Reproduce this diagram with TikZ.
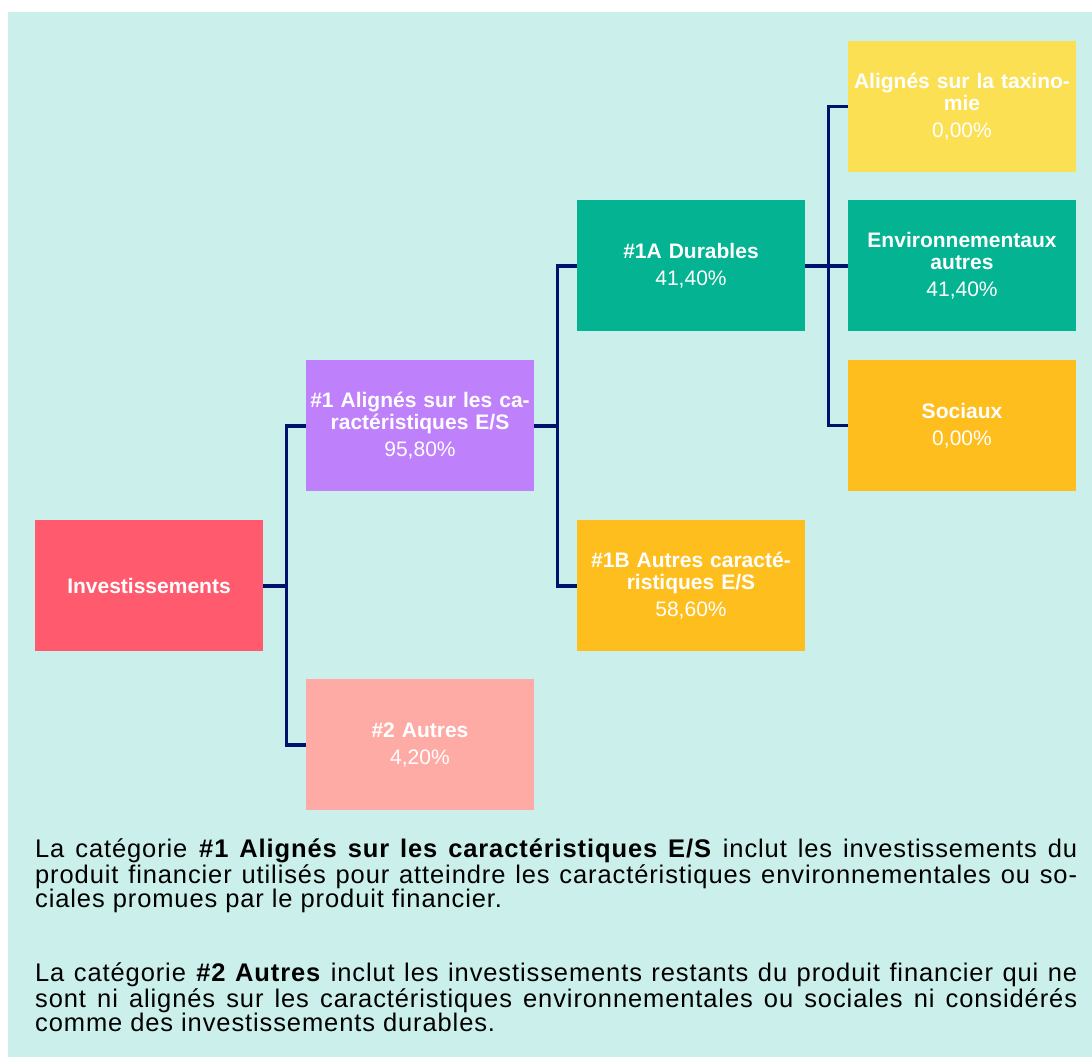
\documentclass[tikz,border=0pt]{standalone}
\usepackage{fontspec}
\setmainfont{Liberation Sans}
\newfontfamily\notefont{Liberation Sans}[LetterSpace=3.5]
\usetikzlibrary{positioning}

\definecolor{bgteal}{RGB}{203,240,236}
\definecolor{invred}{RGB}{255,90,110}
\definecolor{esviolet}{RGB}{191,128,251}
\definecolor{othersalmon}{RGB}{255,171,165}
\definecolor{susteal}{RGB}{3,179,145}
\definecolor{amber}{RGB}{254,190,30}
\definecolor{taxoyellow}{RGB}{252,224,83}
\definecolor{linknavy}{RGB}{0,18,110}

\tikzset{
  box/.style={minimum width=228pt, minimum height=131pt, inner sep=0pt, outer sep=0pt,
    text width=224pt, text=white, align=center, font=\fontsize{21}{22}\selectfont},
  link/.style={draw=linknavy, line width=3.5pt},
  note/.style={anchor=base west, inner sep=0pt, text width=1042pt, align=justify,
    font=\notefont\fontsize{25.5}{23.5}\selectfont}
}
\newcommand{\share}[2]{\textbf{#1}\\[5pt]#2}

\begin{document}
\begin{tikzpicture}[x=1pt, y=1pt, node distance=28.5pt and 43pt]
  \useasboundingbox (0,0) rectangle (1092,1057);
  \fill[bgteal] (8,0) rectangle (1092,1045);

  \node [box, fill=invred] (invest) at (149,471) {\textbf{Investissements}};
  \node [box, fill=esviolet, above right=29pt and 43pt of invest] (es)
    {\share{\#1 Alignés sur les ca-\\ractéristiques E/S}{95,80\%}};
  \node [box, fill=othersalmon, below right=28pt and 43pt of invest] (other)
    {\share{\#2 Autres}{4,20\%}};
  \node [box, fill=susteal, above right=29pt and 43pt of es] (sust)
    {\share{\#1A Durables}{41,40\%}};
  \node [box, fill=amber, below right=29pt and 43pt of es] (otheres)
    {\share{\#1B Autres caracté-\\ristiques E/S}{58,60\%}};
  \node [box, fill=susteal, right=of sust] (envir)
    {\share{Environnementaux\\autres}{41,40\%}};
  \node [box, fill=taxoyellow, above=of envir] (taxo)
    {\share{Alignés sur la taxino-\\mie}{0,00\%}};
  \node [box, fill=amber, below=of envir] (social)
    {\share{Sociaux}{0,00\%}};

  \draw [link] (invest.east) -- ++(23.5,0) |- (es.west);
  \draw [link] (invest.east) -- ++(23.5,0) |- (other.west);
  \draw [link] (es.east) -- ++(23.5,0) |- (sust.west);
  \draw [link] (es.east) -- ++(23.5,0) |- (otheres.west);
  \draw [link] (sust.east) -- ++(23.5,0) |- (taxo.west);
  \draw [link] (sust.east) -- (envir.west);
  \draw [link] (sust.east) -- ++(23.5,0) |- (social.west);

  \node [note] (note1) at (35,199) {La catégorie \textbf{\#1 Alignés sur les caractéristiques E/S} inclut les investissements du\linebreak produit financier utilisés pour atteindre les caractéristiques environnementales ou so-\linebreak ciales promues par le produit financier.};
  \node [note] (note2) at (35,75) {La catégorie \textbf{\#2 Autres} inclut les investissements restants du produit financier qui ne\linebreak sont ni alignés sur les caractéristiques environnementales ou sociales ni considérés\linebreak comme des investissements durables.};
\end{tikzpicture}
\end{document}
